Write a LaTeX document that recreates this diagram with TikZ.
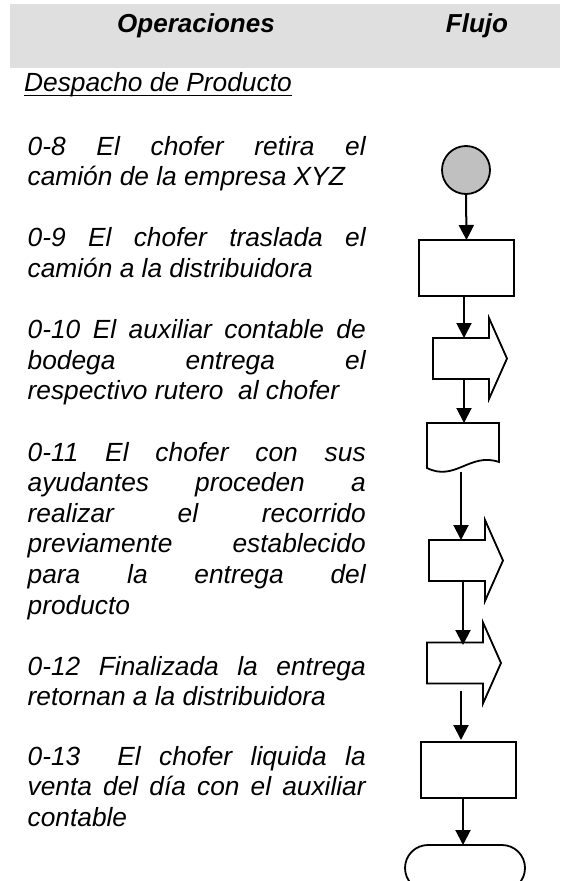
\documentclass[tikz,border=0pt]{standalone}
\usepackage{fontspec}
\setmainfont{Liberation Sans}
\usetikzlibrary{arrows.meta}
\definecolor{hdrgray}{RGB}{223,223,223}
\definecolor{circgray}{RGB}{192,192,192}
\newcommand{\jline}[1]{\makebox[338pt][s]{#1}\par}
\newcommand{\lline}[1]{\mbox{#1}\par}
\newcommand{\flecha}[3]{%
  \node[minimum width=56pt, minimum height=41pt, inner sep=0pt, outer sep=0pt] (#1) at (#2,#3) {};
  \draw[shp] (#1.north west) -- (#1.north east) -- ++(0,-20) -- ++(18,40.5) -- ++(-18,40.5) -- ++(0,-20) -- (#1.south west) -- cycle;
}
\begin{document}
\begin{tikzpicture}[x=1pt,y=-1pt,
  txt/.style={anchor=base west, inner sep=0pt, font=\fontsize{26.3}{30.6}\selectfont\itshape},
  hdr/.style={inner sep=0pt, font=\fontsize{26}{30}\selectfont\bfseries\itshape},
  flow/.style={line width=2pt, -{Triangle[width=15pt,length=15pt]}},
  shp/.style={draw, line width=1.8pt},
  boxn/.style={shp, minimum width=95pt, minimum height=56pt, inner sep=0pt, outer sep=0pt},
]
\useasboundingbox (0,0) rectangle (560,881);
\fill[hdrgray] (10,4) rectangle (560,68);
\node[hdr, anchor=base west] (hop) at (117,32.5) {Operaciones};
\node[hdr, anchor=base] (hfl) at (477,32.5) {Flujo};
\node[txt] (desp) at (24,91) {Despacho de Producto};
\draw[line width=1.6pt] ([yshift=-4.5pt]desp.base west) -- ([yshift=-4.5pt]desp.base east);

\node[txt] (p8) at (27.5,155) {\parbox[t]{338pt}{\jline{0-8 El chofer retira el}\lline{camión de la empresa XYZ}}};
\node[txt] (p9) at (27.5,246.8) {\parbox[t]{338pt}{\jline{0-9 El chofer traslada el}\lline{camión a la distribuidora}}};
\node[txt] (p10) at (27.5,338.6) {\parbox[t]{338pt}{\jline{0-10 El auxiliar contable de}\jline{bodega entrega el}\lline{respectivo rutero\ \ al chofer}}};
\node[txt] (p11) at (27.5,461) {\parbox[t]{338pt}{\jline{0-11 El chofer con sus}\jline{ayudantes proceden a}\jline{realizar el recorrido}\jline{previamente establecido}\jline{para la entrega del}\lline{producto}}};
\node[txt] (p12) at (27.5,675.2) {\parbox[t]{338pt}{\jline{0-12 Finalizada la entrega}\lline{retornan a la distribuidora}}};
\node[txt] (p13) at (27.5,765) {\parbox[t]{338pt}{\jline{0-13\ \ El chofer liquida la}\jline{venta del día con el auxiliar}\lline{contable}}};

% flowchart
\node[circle, shp, fill=circgray, minimum size=48pt, inner sep=0pt, outer sep=0pt] (c0) at (466,170) {};
\node[boxn] (r1) at (466.5,268) {};
\flecha{a1}{461}{358.5}
\draw[shp] (427,423) -- (499,423) -- (499,462) .. controls (470,452) and (455,482) .. (427,468) -- cycle;
\coordinate (dtop) at (464,423);
\coordinate (dbot) at (461,471.5);
\flecha{a2}{457}{560.5}
\flecha{a3}{455}{663}
\node[boxn] (r2) at (468.5,770) {};
\node[shp, rounded corners=23pt, minimum width=120pt, minimum height=46pt, inner sep=0pt, outer sep=0pt] (t) at (465,868) {};

\draw[flow] (c0.south) -- (r1.north);
\draw[flow] ([xshift=-2.5pt]r1.south) -- ([xshift=3pt]a1.north);
\draw[flow] ([xshift=3pt]a1.south) -- (dtop);
\draw[flow] (dbot) -- ([xshift=4pt]a2.north);
\draw[flow] ([xshift=6pt]a2.south) -- ([xshift=8pt,yshift=-2.5pt]a3.north);
\draw[flow] ([xshift=6pt,yshift=-7pt]a3.south) -- ([xshift=-7.5pt,yshift=2pt]r2.north);
\draw[flow] ([xshift=-5.5pt]r2.south) -- ([xshift=-2pt]t.north);
\end{tikzpicture}
\end{document}
